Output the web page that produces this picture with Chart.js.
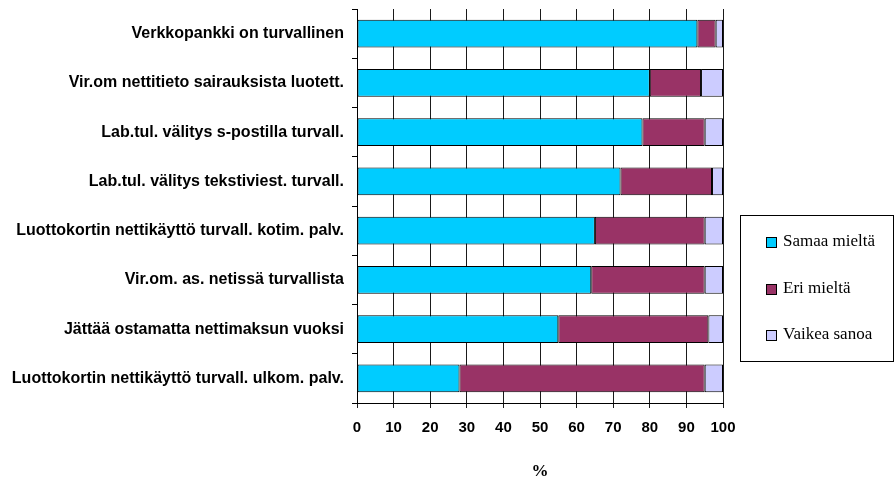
<!DOCTYPE html>
<html>
<head>
<meta charset="utf-8">
<script src="https://cdn.jsdelivr.net/npm/chart.js@4/dist/chart.umd.min.js"></script>
<style>
html,body{margin:0;padding:0;background:#fff;}
#wrap{width:895px;height:477px;position:relative;}
</style>
</head>
<body>
<div id="wrap"><canvas id="c" width="895" height="477"></canvas></div>
<script>
const categories = [
  "Verkkopankki on turvallinen",
  "Vir.om nettitieto sairauksista luotett.",
  "Lab.tul. välitys s-postilla turvall.",
  "Lab.tul. välitys tekstiviest. turvall.",
  "Luottokortin nettikäyttö turvall. kotim. palv.",
  "Vir.om. as. netissä turvallista",
  "Jättää ostamatta nettimaksun vuoksi",
  "Luottokortin nettikäyttö turvall. ulkom. palv."
];
const seriesNames = ["Samaa mieltä", "Eri mieltä", "Vaikea sanoa"];
const samaaMielta = [93, 80, 78, 72, 65, 64, 55, 28];
const eriMielta = [5, 14, 17, 25, 30, 31, 41, 67];
const vaikeaSanoa = [2, 6, 5, 3, 5, 5, 4, 5];
const xTicks = [0, 10, 20, 30, 40, 50, 60, 70, 80, 90, 100];
const axisTitle = "%";

const colors = ["#00CCFF", "#993366", "#CCCCFF"];

const legendBox = {
  id: 'legendBox',
  afterDraw(chart) {
    const ctx = chart.ctx;
    ctx.save();
    ctx.strokeStyle = '#000';
    ctx.lineWidth = 1;
    ctx.strokeRect(740.5, 215.5, 153, 146);
    ctx.font = '17px "Liberation Serif", "Times New Roman", serif';
    ctx.textBaseline = 'middle';
    ctx.textAlign = 'left';
    chart.data.datasets.forEach((ds, i) => {
      const cy = 242 + i * 46.5;
      ctx.fillStyle = ds.backgroundColor;
      ctx.fillRect(766.5, Math.round(cy - 5) + 0.5, 10, 10);
      ctx.strokeStyle = '#000';
      ctx.strokeRect(766.5, Math.round(cy - 5) + 0.5, 10, 10);
      ctx.fillStyle = '#000';
      ctx.fillText(ds.label, 783, cy);
    });
    ctx.restore();
  }
};

new Chart(document.getElementById('c'), {
  type: 'bar',
  data: {
    labels: categories,
    datasets: [
      { label: seriesNames[0], data: samaaMielta, backgroundColor: colors[0] },
      { label: seriesNames[1], data: eriMielta, backgroundColor: colors[1] },
      { label: seriesNames[2], data: vaikeaSanoa, backgroundColor: colors[2] }
    ].map(d => Object.assign(d, {
      borderColor: '#000', borderWidth: 1, borderSkipped: false,
      barPercentage: 0.56, categoryPercentage: 1
    }))
  },
  options: {
    indexAxis: 'y',
    responsive: false,
    animation: false,
    layout: { padding: { top: 9, right: 172, left: 0, bottom: 0 } },
    plugins: { legend: { display: false }, tooltip: { enabled: false } },
    scales: {
      x: {
        stacked: true,
        min: 0, max: 100,
        afterBuildTicks(scale) { scale.ticks = xTicks.map(v => ({ value: v })); },
        afterFit(scale) { scale.height = 74; scale.paddingLeft = 0; scale.paddingRight = 0; },
        grid: { color: '#1a1a1a', lineWidth: 1, tickLength: 5, drawOnChartArea: true, drawTicks: true },
        border: { display: true, color: '#000', width: 1 },
        ticks: {
          padding: 11, color: '#000',
          font: { family: '"Liberation Sans", Arial, sans-serif', size: 15, weight: 'bold' }
        },
        title: {
          display: true, text: axisTitle, color: '#000',
          padding: { top: 0, bottom: -3 },
          font: { family: '"Liberation Serif", "Times New Roman", serif', size: 17, weight: 'bold', lineHeight: 1 }
        }
      },
      y: {
        stacked: true,
        afterFit(scale) { scale.width = 357; scale.paddingTop = 0; scale.paddingBottom = 0; },
        grid: { drawOnChartArea: false, drawTicks: true, tickLength: 5, color: '#000', offset: true },
        border: { display: true, color: '#000', width: 1 },
        ticks: {
          padding: 8, color: '#000', autoSkip: false,
          font: { family: '"Liberation Sans", Arial, sans-serif', size: 16, weight: 'bold' }
        }
      }
    }
  },
  plugins: [legendBox]
});
</script>
</body>
</html>
